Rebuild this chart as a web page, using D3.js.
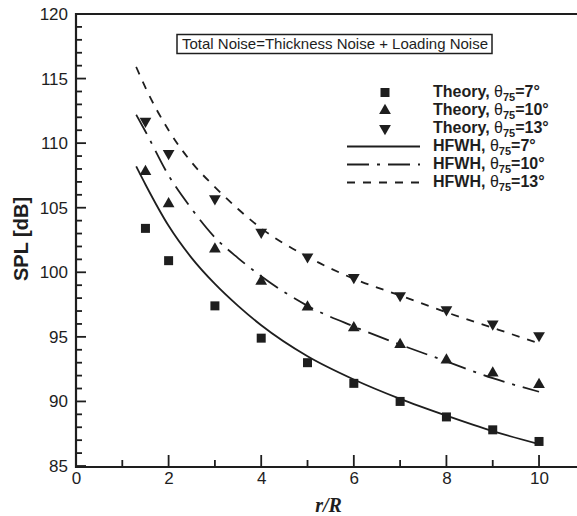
<!DOCTYPE html>
<html>
<head>
<meta charset="utf-8">
<script src="https://cdn.jsdelivr.net/npm/d3@7/dist/d3.min.js"></script>
<style>
  body { margin: 0; background: #fff; }
  svg { display: block; }
  text { font-family: "Liberation Sans", Arial, Helvetica, sans-serif; fill: #1e1e1e; }
</style>
</head>
<body>
<div id="chart"></div>
<script>
(function () {
"use strict";

// theory points (symbols)
var theoryR = [1.5, 2, 3, 4, 5, 6, 7, 8, 9, 10];
var theory7 = [103.4, 100.9, 97.4, 94.9, 93.0, 91.4, 90.0, 88.8, 87.8, 86.9];
var theory10 = [107.8, 105.3, 101.8, 99.3, 97.3, 95.7, 94.4, 93.2, 92.2, 91.3];
var theory13 = [111.7, 109.2, 105.7, 103.1, 101.2, 99.6, 98.2, 97.1, 96.0, 95.1];

// HFWH curves
var hfwhR = [1.3, 1.5, 2, 2.5, 3, 3.5, 4, 5, 6, 7, 8, 9, 10];
var hfwh7 = [108.2, 106.8, 103.6, 101.1, 99.1, 97.4, 95.9, 93.5, 91.7, 90.2, 88.9, 87.7, 86.7];
var hfwh10 = [112.2, 110.9, 107.5, 104.9, 102.7, 101.1, 99.7, 97.4, 95.8, 94.4, 93.1, 91.8, 90.75];
var hfwh13 = [115.9, 114.3, 111.0, 108.5, 106.6, 104.9, 103.4, 101.2, 99.5, 98.2, 96.9, 95.7, 94.5];

var xMajor = [0, 2, 4, 6, 8, 10];
var yMajor = [85, 90, 95, 100, 105, 110, 115, 120];
var legendAngles = ["7", "10", "13"];

var width = 577, height = 516;
var ink = "#1e1e1e";

var x = d3.scaleLinear().domain([0, 10.82]).range([76, 577]);
var y = d3.scaleLinear().domain([85, 120]).range([466, 14]);

var svg = d3.select("#chart").append("svg")
    .attr("width", width)
    .attr("height", height);

// tick marks, pointing inward
var xMinor = d3.range(1, 11, 2);
var yMinor = d3.range(85, 121).filter(function (v) { return v % 5 !== 0; });

var ticks = svg.append("g").attr("stroke", ink).attr("stroke-width", 1.8);

ticks.selectAll(".xt")
    .data(xMajor.map(function (v) { return [v, 11]; }).concat(xMinor.map(function (v) { return [v, 6]; })))
    .enter().append("line")
    .attr("x1", function (d) { return x(d[0]); })
    .attr("x2", function (d) { return x(d[0]); })
    .attr("y1", y(85))
    .attr("y2", function (d) { return y(85) - d[1]; });

ticks.selectAll(".yt")
    .data(yMajor.map(function (v) { return [v, 10]; }).concat(yMinor.map(function (v) { return [v, 6]; })))
    .enter().append("line")
    .attr("y1", function (d) { return y(d[0]); })
    .attr("y2", function (d) { return y(d[0]); })
    .attr("x1", x(0))
    .attr("x2", function (d) { return x(0) + d[1]; });

// tick labels via axes
var gx = svg.append("g")
    .attr("transform", "translate(0," + y(85) + ")")
    .call(d3.axisBottom(x).tickValues(xMajor).tickSize(0).tickPadding(6).tickFormat(d3.format("d")));
gx.select(".domain").remove();
gx.selectAll("line").remove();
gx.selectAll("text").style("font-size", "17px").attr("fill", ink);

var gy = svg.append("g")
    .attr("transform", "translate(" + x(0) + ",0)")
    .call(d3.axisLeft(y).tickValues(yMajor).tickSize(0).tickPadding(8).tickFormat(d3.format("d")));
gy.select(".domain").remove();
gy.selectAll("line").remove();
gy.selectAll("text").style("font-size", "17px").attr("fill", ink);

// frame lines
svg.append("path")
    .attr("d", "M" + x(0) + "," + y(120) + "H" + width)
    .attr("stroke", ink).attr("stroke-width", 2.2).attr("fill", "none");
svg.append("path")
    .attr("d", "M" + x(0) + "," + (y(120) - 1) + "V" + (y(85) + 1) + "H" + width)
    .attr("stroke", ink).attr("stroke-width", 2.2).attr("fill", "none");

// axis titles
svg.append("text")
    .attr("transform", "translate(28," + 239 + ") rotate(-90)")
    .attr("text-anchor", "middle")
    .style("font-size", "20px")
    .style("font-weight", "bold")
    .text("SPL [dB]");

svg.append("text")
    .attr("x", (x(0) + width) / 2 + 2)
    .attr("y", 512)
    .attr("text-anchor", "middle")
    .style("font-family", "'Liberation Serif', 'Times New Roman', serif")
    .style("font-size", "20px")
    .style("font-weight", "bold")
    .style("font-style", "italic")
    .text("r/R");

// curves
var styles = [
    { vals: hfwh7, dash: null },
    { vals: hfwh10, dash: "22,8,3,8" },
    { vals: hfwh13, dash: "8,8" }
];

var line = d3.line()
    .x(function (d) { return x(d[0]); })
    .y(function (d) { return y(d[1]); })
    .curve(d3.curveMonotoneX);

styles.forEach(function (s) {
    svg.append("path")
        .datum(hfwhR.map(function (r, i) { return [r, s.vals[i]]; }))
        .attr("d", line)
        .attr("fill", "none")
        .attr("stroke", ink)
        .attr("stroke-width", 1.8)
        .attr("stroke-dasharray", s.dash);
});

// symbols
var sq = d3.symbol().type(d3.symbolSquare).size(81);
var tri = d3.symbol().type(d3.symbolTriangle).size(60);

function drawMarks(vals, shape, rot) {
    svg.append("g").selectAll("path")
        .data(theoryR.map(function (r, i) { return [r, vals[i]]; }))
        .enter().append("path")
        .attr("d", shape)
        .attr("transform", function (d) {
            return "translate(" + x(d[0]) + "," + y(d[1]) + ")" + (rot ? " rotate(" + rot + ")" : "");
        })
        .attr("fill", ink);
}
drawMarks(theory7, sq, 0);
drawMarks(theory10, tri, 0);
drawMarks(theory13, tri, 180);

// title box
svg.append("rect")
    .attr("x", 177).attr("y", 34.5)
    .attr("width", 315).attr("height", 19)
    .attr("fill", "#fff")
    .attr("stroke", ink).attr("stroke-width", 1.5);
svg.append("text")
    .attr("x", 182).attr("y", 49)
    .style("font-size", "15px")
    .text("Total Noise=Thickness Noise + Loading Noise");

// legend
var legend = svg.append("g");
var rowY = function (i) { return 96.5 + i * 18; };

function legendLabel(i, name, ang) {
    var t = legend.append("text")
        .attr("x", 433).attr("y", rowY(i))
        .style("font-size", "16px")
        .style("font-weight", "bold");
    t.append("tspan").text(name + ", ");
    t.append("tspan").style("font-weight", "normal").text("\u03b8");
    t.append("tspan").attr("dy", 4).style("font-size", "11px").text("75");
    t.append("tspan").attr("dy", -4).text("=" + ang + "\u00b0");
}

[sq, tri, tri].forEach(function (shape, i) {
    legend.append("path")
        .attr("d", shape)
        .attr("transform", "translate(385," + (rowY(i) - 4) + ")" + (i === 2 ? " rotate(180)" : ""))
        .attr("fill", ink);
    legendLabel(i, "Theory", legendAngles[i]);
});

styles.forEach(function (s, i) {
    legend.append("line")
        .attr("x1", 347).attr("x2", 420)
        .attr("y1", rowY(i + 3) - 4).attr("y2", rowY(i + 3) - 4)
        .attr("stroke", ink)
        .attr("stroke-width", 1.8)
        .attr("stroke-dasharray", s.dash);
    legendLabel(i + 3, "HFWH", legendAngles[i]);
});

})();
</script>
</body>
</html>
